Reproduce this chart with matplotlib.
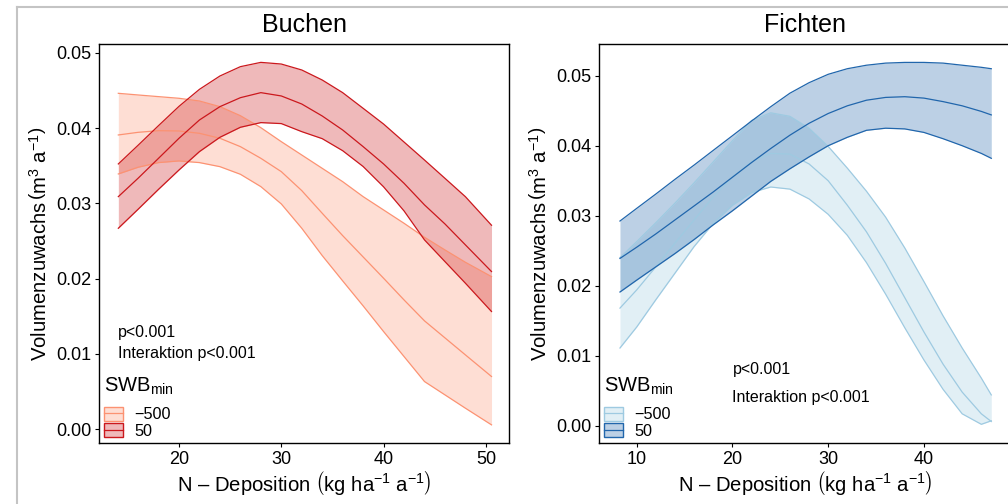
import matplotlib
matplotlib.use("Agg")
import matplotlib.pyplot as plt
from matplotlib.lines import Line2D
from matplotlib.patches import Patch
from matplotlib.legend_handler import HandlerTuple
from matplotlib.colors import to_rgba

plt.rcParams['font.family'] = ['Liberation Sans', 'DejaVu Sans']
plt.rcParams['mathtext.fontset'] = 'custom'
plt.rcParams['mathtext.rm'] = 'Liberation Sans'
plt.rcParams['mathtext.it'] = 'Liberation Sans:italic'
plt.rcParams['mathtext.bf'] = 'Liberation Sans:bold'

# Buchen: N-Deposition und Volumenzuwachs (Mitte, untere/obere Grenze)
buchen_x = [14.07, 16, 18, 20, 22, 24, 26, 28, 30, 32, 34, 36, 38, 40, 42, 44, 46, 48, 50.55]
buchen_m500 = [0.03909, 0.03944, 0.03966, 0.03962, 0.03931, 0.03865, 0.03754, 0.03599, 0.03422, 0.0317,
               0.02869, 0.02572, 0.02289, 0.02006, 0.01718, 0.0144, 0.01214, 0.00988, 0.00701]
buchen_m500_lo = [0.03391, 0.0348, 0.03542, 0.03564, 0.03542, 0.03488, 0.03387, 0.03223, 0.02993, 0.0267,
                  0.02307, 0.01971, 0.01639, 0.01298, 0.00966, 0.00634, 0.00457, 0.0028, 0.00059]
buchen_m500_hi = [0.04462, 0.0444, 0.04418, 0.04396, 0.0436, 0.04285, 0.04165, 0.04006, 0.0382, 0.03643,
                  0.03466, 0.03289, 0.0309, 0.02913, 0.02736, 0.0255, 0.02382, 0.02218, 0.02028]
buchen_50 = [0.0309, 0.03334, 0.03599, 0.03865, 0.04108, 0.04285, 0.04404, 0.04471, 0.04427, 0.0432,
             0.04161, 0.03975, 0.03754, 0.03524, 0.03267, 0.0298, 0.02727, 0.02449, 0.02095]
buchen_50_lo = [0.0267, 0.02922, 0.03187, 0.03444, 0.03688, 0.03878, 0.04011, 0.04073, 0.0406, 0.03953,
                0.0386, 0.037, 0.0349, 0.0322, 0.029, 0.02515, 0.02227, 0.0194, 0.01564]
buchen_50_hi = [0.03524, 0.03772, 0.04033, 0.04289, 0.04515, 0.04692, 0.04816, 0.04873, 0.04851, 0.04772,
                0.04639, 0.04471, 0.04263, 0.04054, 0.03815, 0.03576, 0.03333, 0.03089, 0.0271]

# Fichten
fichten_x = [8.25, 10, 12, 14, 16, 18, 20, 22, 24, 26, 28, 30, 32, 34, 36, 38, 40, 42, 44, 46, 47.04]
fichten_m500 = [0.0168, 0.0194, 0.0227, 0.0261, 0.0294, 0.0327, 0.0355, 0.0377, 0.0389, 0.0388, 0.0374,
                0.0350, 0.0315, 0.0277, 0.0232, 0.0183, 0.0134, 0.0088, 0.0048, 0.0017, 0.0006]
fichten_m500_lo = [0.0111, 0.0141, 0.0180, 0.0218, 0.0256, 0.0289, 0.0315, 0.0333, 0.0341, 0.0338, 0.0324,
                   0.0302, 0.0272, 0.0233, 0.0188, 0.0140, 0.0094, 0.0052, 0.0017, 0.0002, 0.0007]
fichten_m500_hi = [0.0240, 0.0263, 0.0290, 0.0318, 0.0347, 0.0377, 0.0407, 0.0436, 0.0447, 0.0442, 0.0425,
                   0.0399, 0.0368, 0.0335, 0.0298, 0.0254, 0.0206, 0.0157, 0.0111, 0.0068, 0.0044]
fichten_50 = [0.0239, 0.0255, 0.0274, 0.0294, 0.0314, 0.0334, 0.0355, 0.0376, 0.0396, 0.0415, 0.0432,
              0.0446, 0.0457, 0.0465, 0.0469, 0.0470, 0.0468, 0.0463, 0.0457, 0.0449, 0.0444]
fichten_50_lo = [0.0191, 0.0208, 0.0227, 0.0246, 0.0266, 0.0287, 0.0307, 0.0328, 0.0349, 0.0367, 0.0384,
                 0.0400, 0.0412, 0.0422, 0.0425, 0.0424, 0.0419, 0.0410, 0.0400, 0.0389, 0.0382]
fichten_50_hi = [0.02924, 0.03105, 0.0331, 0.0352, 0.03724, 0.03934, 0.04143, 0.04353, 0.04557, 0.0475, 0.0490,
                 0.0502, 0.0510, 0.0515, 0.0518, 0.0519, 0.0519, 0.0518, 0.0515, 0.0512, 0.0510]

swb_labels = ['\u2212500', '50']
reds = ['#FC9272', '#CB181D']
blues = ['#9ECAE1', '#2166AC']

W, H = 1008, 504
fig = plt.figure(figsize=(W / 100, H / 100), dpi=100)
ax1 = fig.add_axes([99 / W, 61 / H, 410 / W, 399 / H])
ax2 = fig.add_axes([599 / W, 61 / H, 412 / W, 399 / H])

# grauer Rahmen (Ausschnitt)
fig.add_artist(Line2D([17 / W, 1], [1 - 7 / H, 1 - 7 / H], transform=fig.transFigure, color='#C4C4C4', lw=1.5))
fig.add_artist(Line2D([17 / W, 17 / W], [0, 1 - 7 / H], transform=fig.transFigure, color='#C4C4C4', lw=1.5))


def panel(ax, x, groups, colors, title, xlim, ylim, xticks, yticks, ptxt):
    handles = []
    for (mid, lo, hi), col in zip(groups, colors):
        ax.fill_between(x, lo, hi, color=col, alpha=0.3, lw=0)
        for s in (lo, mid, hi):
            ax.plot(x, s, color=col, lw=0.9, solid_joinstyle='round')
        handles.append((Patch(facecolor=to_rgba(col, 0.3), edgecolor=col, lw=1.0),
                        Line2D([], [], color=col, lw=0.9)))
    ax.set_xlim(*xlim)
    ax.set_ylim(*ylim)
    ax.set_xticks(xticks)
    ax.set_yticks(yticks)
    ax.set_yticklabels(['%.2f' % v for v in yticks])
    ax.tick_params(direction='out', length=3, width=0.8, labelsize=13, pad=2.5, colors='black')
    for sp in ax.spines.values():
        sp.set_linewidth(1.0)
    ax.set_title(title, fontsize=18, pad=8.5)
    ax.set_ylabel(r"Volumenzuwachs$\,\left(\mathrm{m}^{3}\ \mathrm{a}^{-1}\right)$", fontsize=14.6)
    ax.yaxis.set_label_coords(-0.118, 0.5)
    ax.set_xlabel(r"N – Deposition $\left(\mathrm{kg\ ha}^{-1}\ \mathrm{a}^{-1}\right)$", fontsize=14.6)
    ax.xaxis.set_label_coords(0.5, -0.066)
    (tx, ty1, ty2) = ptxt
    ax.text(tx, ty1, 'p<0.001', fontsize=11.5, ha='left', va='center')
    ax.text(tx, ty2, 'Interaktion p<0.001', fontsize=11.5, ha='left', va='center')
    leg = ax.legend(handles, swb_labels, title=r'SWB$_{\mathrm{min}}$', loc='lower left',
                    bbox_to_anchor=(0.012, 0.010), frameon=False, fontsize=11.7, title_fontsize=14.5,
                    handlelength=1.17, handleheight=0.95, handletextpad=0.7, labelspacing=0.08,
                    borderpad=0, borderaxespad=0, alignment='left',
                    handler_map={tuple: HandlerTuple(ndivide=1)})
    leg._legend_box.sep = 7


panel(ax1, buchen_x,
      [(buchen_m500, buchen_m500_lo, buchen_m500_hi), (buchen_50, buchen_50_lo, buchen_50_hi)],
      reds, 'Buchen', (12.18, 52.26), (-0.00182, 0.05117), [20, 30, 40, 50],
      [0.0, 0.01, 0.02, 0.03, 0.04, 0.05], (14.07, 0.0128, 0.0100))
panel(ax2, fichten_x,
      [(fichten_m500, fichten_m500_lo, fichten_m500_hi), (fichten_50, fichten_50_lo, fichten_50_hi)],
      blues, 'Fichten', (6.06, 49.1), (-0.00247, 0.05453), [10, 20, 30, 40],
      [0.0, 0.01, 0.02, 0.03, 0.04, 0.05], (20, 0.008, 0.004))

fig.savefig('out.png', dpi=100)
